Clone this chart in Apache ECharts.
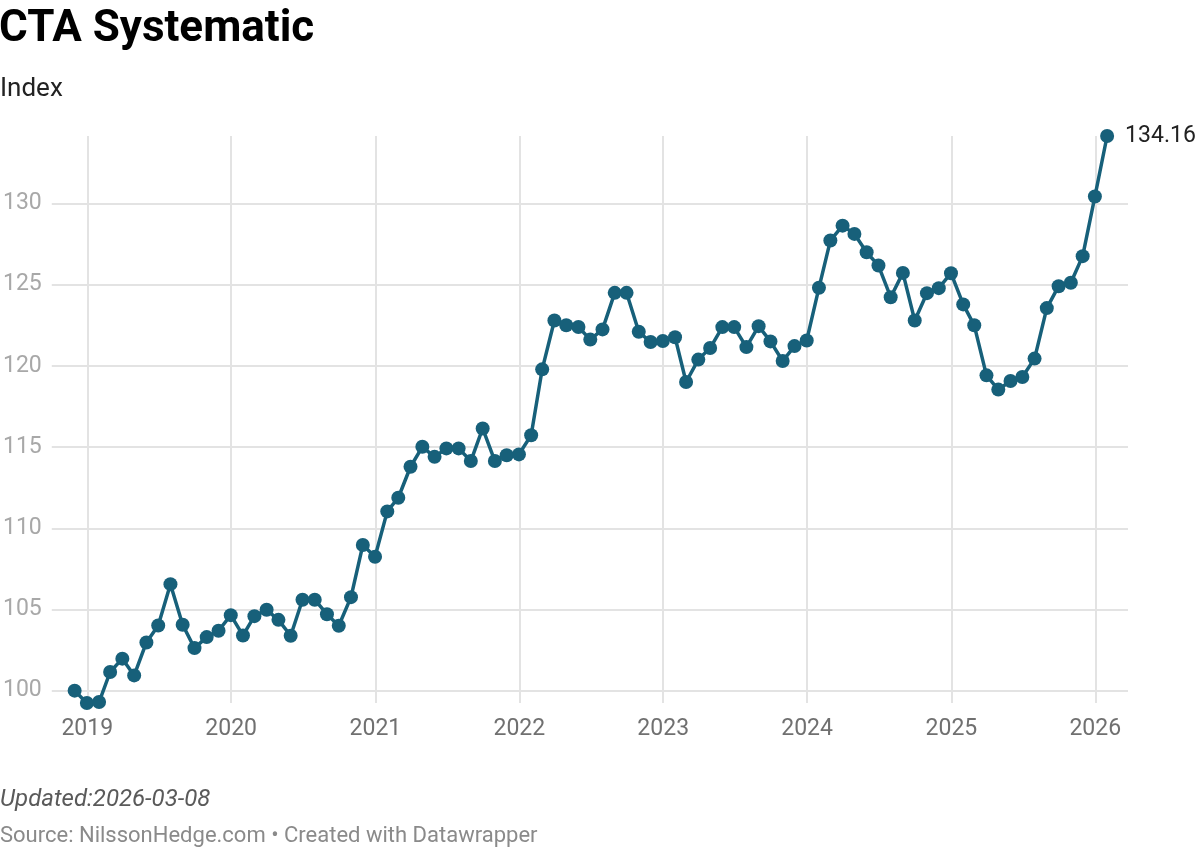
<!DOCTYPE html>
<html>
<head>
<meta charset="utf-8">
<title>CTA Systematic</title>
<script src="https://cdn.jsdelivr.net/npm/echarts@6/dist/echarts.min.js"></script>
<style>
  html, body { margin: 0; padding: 0; background: #fff; }
  #chart { width: 1200px; height: 848px; }
</style>
</head>
<body>
<div id="chart"></div>
<script>
// month-end dates, Nov 2018 .. Jan 2026
const months = [];
for (let y = 2018, m = 10; y < 2026 || m <= 0; ) {
  const last = new Date(Date.UTC(y, m + 1, 0));
  months.push(last.toISOString().slice(0, 10));
  m++;
  if (m > 11) { m = 0; y++; }
}

// index values
const indexValues = [
  100.00, 99.24, 99.30, 101.15, 101.97, 100.94, 102.97, 104.01, 106.56, 104.06,
  102.62, 103.30, 103.69, 104.65, 103.40, 104.59, 104.98, 104.36, 103.38, 105.60,
  105.60, 104.71, 104.00, 105.76, 108.97, 108.25, 111.04, 111.88, 113.79, 115.02,
  114.40, 114.92, 114.92, 114.14, 116.15, 114.14, 114.50, 114.55, 115.73, 119.79,
  122.80, 122.50, 122.40, 121.62, 122.25, 124.50, 124.50, 122.10, 121.47, 121.53,
  121.77, 119.01, 120.39, 121.10, 122.39, 122.39, 121.16, 122.45, 121.51, 120.30,
  121.22, 121.57, 124.81, 127.72, 128.64, 128.13, 127.00, 126.18, 124.23, 125.73,
  122.80, 124.48, 124.79, 125.71, 123.79, 122.50, 119.42, 118.54, 119.07, 119.32,
  120.45, 123.56, 124.91, 125.12, 126.76, 130.43, 134.16
];

const yTicks = [100, 105, 110, 115, 120, 125, 130];
const xTicks = ['2019', '2020', '2021', '2022', '2023', '2024', '2025', '2026'];

const lineColor = '#17607a';
const font = 'Roboto, "Noto Sans", sans-serif';
const ts = s => Date.parse(s + 'T00:00:00Z');
const yearStarts = xTicks.map(y => ts(y + '-01-01'));

const chart = echarts.init(document.getElementById('chart'));

chart.setOption({
  backgroundColor: '#fff',
  animation: false,
  textStyle: { fontFamily: font },
  title: [
    {
      text: 'CTA Systematic', left: -1, top: 8, padding: 0,
      textStyle: { fontSize: 44, fontWeight: 'bold', color: '#000', fontFamily: font }
    },
    {
      text: 'Index', left: 0, top: 76, padding: 0,
      textStyle: { fontSize: 26, fontWeight: 'normal', color: '#222', fontFamily: font }
    },
    {
      text: 'Updated:2026-03-08', left: 0, top: 788, padding: 0,
      textStyle: { fontSize: 24, fontWeight: 'normal', fontStyle: 'italic', color: '#5a5a5a', fontFamily: font }
    },
    {
      text: 'Source: NilssonHedge.com \u2022 Created with Datawrapper', left: 0, top: 825, padding: 0,
      textStyle: { fontSize: 22, fontWeight: 'normal', color: '#8a8a8a', fontFamily: font }
    }
  ],
  grid: { left: 49, right: 72, top: 136, bottom: 145, containLabel: false },
  xAxis: {
    type: 'value',
    min: ts('2018-10-03'),
    max: ts('2026-03-25'),
    axisLine: { show: false },
    axisTick: { show: false, customValues: yearStarts },
    splitLine: { show: true, lineStyle: { color: '#e3e3e3', width: 2 } },
    axisLabel: {
      customValues: yearStarts,
      formatter: v => String(new Date(v).getUTCFullYear()),
      color: '#707070', fontSize: 23, margin: 15, fontFamily: font
    }
  },
  yAxis: {
    type: 'value',
    min: 'dataMin',
    max: 'dataMax',
    axisLine: { show: false },
    axisTick: { show: false, customValues: yTicks },
    splitLine: { show: true, lineStyle: { color: '#e3e3e3', width: 2 } },
    axisLabel: {
      customValues: yTicks,
      color: '#a8a8a8', fontSize: 23, margin: 10, fontFamily: font
    }
  },
  series: [{
    type: 'line',
    data: months.map((d, i) => [ts(d), indexValues[i]]),
    symbol: 'circle',
    symbolSize: 14,
    itemStyle: { color: lineColor },
    lineStyle: { color: lineColor, width: 3.5 },
    endLabel: {
      show: true,
      formatter: p => p.value[1].toFixed(2),
      color: '#222', fontSize: 23, distance: 18, fontFamily: font
    }
  }]
});
</script>
</body>
</html>
